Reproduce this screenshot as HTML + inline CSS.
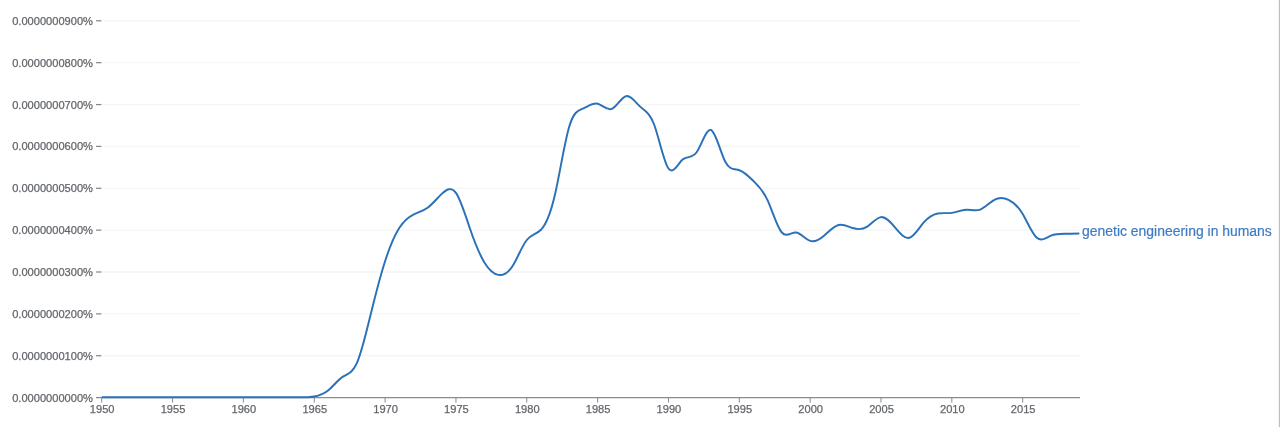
<!DOCTYPE html>
<html lang="en"><head><meta charset="utf-8"><title>Ngram chart</title>
<style>
html,body{margin:0;padding:0;background:#fff;}
body{width:1280px;height:427px;overflow:hidden;}
svg{display:block;}
.ax text{font-family:"Liberation Sans",sans-serif;font-size:11.1px;fill:#62666b;stroke:#62666b;stroke-width:0.25px;}
.lbl{font-family:"Liberation Sans",sans-serif;font-size:13.95px;fill:#3d7cc4;stroke:#3d7cc4;stroke-width:0.2px;}
</style></head><body>
<svg width="1280" height="427" viewBox="0 0 1280 427">
<rect width="1280" height="427" fill="#fff"/>
<g><line x1="96" x2="101.5" y1="397.60" y2="397.60" stroke="#858585" stroke-width="1.2"/>
<line x1="103.5" x2="1080" y1="355.74" y2="355.74" stroke="#f5f5f5" stroke-width="1.3"/>
<line x1="96" x2="101.5" y1="355.74" y2="355.74" stroke="#858585" stroke-width="1.2"/>
<line x1="103.5" x2="1080" y1="313.87" y2="313.87" stroke="#f5f5f5" stroke-width="1.3"/>
<line x1="96" x2="101.5" y1="313.87" y2="313.87" stroke="#858585" stroke-width="1.2"/>
<line x1="103.5" x2="1080" y1="272.00" y2="272.00" stroke="#f5f5f5" stroke-width="1.3"/>
<line x1="96" x2="101.5" y1="272.00" y2="272.00" stroke="#858585" stroke-width="1.2"/>
<line x1="103.5" x2="1080" y1="230.14" y2="230.14" stroke="#f5f5f5" stroke-width="1.3"/>
<line x1="96" x2="101.5" y1="230.14" y2="230.14" stroke="#858585" stroke-width="1.2"/>
<line x1="103.5" x2="1080" y1="188.28" y2="188.28" stroke="#f5f5f5" stroke-width="1.3"/>
<line x1="96" x2="101.5" y1="188.28" y2="188.28" stroke="#858585" stroke-width="1.2"/>
<line x1="103.5" x2="1080" y1="146.41" y2="146.41" stroke="#f5f5f5" stroke-width="1.3"/>
<line x1="96" x2="101.5" y1="146.41" y2="146.41" stroke="#858585" stroke-width="1.2"/>
<line x1="103.5" x2="1080" y1="104.55" y2="104.55" stroke="#f5f5f5" stroke-width="1.3"/>
<line x1="96" x2="101.5" y1="104.55" y2="104.55" stroke="#858585" stroke-width="1.2"/>
<line x1="103.5" x2="1080" y1="62.68" y2="62.68" stroke="#f5f5f5" stroke-width="1.3"/>
<line x1="96" x2="101.5" y1="62.68" y2="62.68" stroke="#858585" stroke-width="1.2"/>
<line x1="103.5" x2="1080" y1="20.81" y2="20.81" stroke="#f5f5f5" stroke-width="1.3"/>
<line x1="96" x2="101.5" y1="20.81" y2="20.81" stroke="#858585" stroke-width="1.2"/>
</g>
<line x1="101.5" x2="1080" y1="397.60" y2="397.60" stroke="#8a8a8a" stroke-width="1.2"/>
<g><line x1="101.70" x2="101.70" y1="397.60" y2="402.60" stroke="#8a8a8a" stroke-width="1"/>
<line x1="172.55" x2="172.55" y1="397.60" y2="402.60" stroke="#8a8a8a" stroke-width="1"/>
<line x1="243.39" x2="243.39" y1="397.60" y2="402.60" stroke="#8a8a8a" stroke-width="1"/>
<line x1="314.24" x2="314.24" y1="397.60" y2="402.60" stroke="#8a8a8a" stroke-width="1"/>
<line x1="385.08" x2="385.08" y1="397.60" y2="402.60" stroke="#8a8a8a" stroke-width="1"/>
<line x1="455.93" x2="455.93" y1="397.60" y2="402.60" stroke="#8a8a8a" stroke-width="1"/>
<line x1="526.77" x2="526.77" y1="397.60" y2="402.60" stroke="#8a8a8a" stroke-width="1"/>
<line x1="597.62" x2="597.62" y1="397.60" y2="402.60" stroke="#8a8a8a" stroke-width="1"/>
<line x1="668.46" x2="668.46" y1="397.60" y2="402.60" stroke="#8a8a8a" stroke-width="1"/>
<line x1="739.31" x2="739.31" y1="397.60" y2="402.60" stroke="#8a8a8a" stroke-width="1"/>
<line x1="810.15" x2="810.15" y1="397.60" y2="402.60" stroke="#8a8a8a" stroke-width="1"/>
<line x1="881.00" x2="881.00" y1="397.60" y2="402.60" stroke="#8a8a8a" stroke-width="1"/>
<line x1="951.84" x2="951.84" y1="397.60" y2="402.60" stroke="#8a8a8a" stroke-width="1"/>
<line x1="1022.69" x2="1022.69" y1="397.60" y2="402.60" stroke="#8a8a8a" stroke-width="1"/>
</g>
<g class="ax"><text x="93" y="401.60" text-anchor="end">0.0000000000%</text>
<text x="93" y="359.74" text-anchor="end">0.0000000100%</text>
<text x="93" y="317.87" text-anchor="end">0.0000000200%</text>
<text x="93" y="276.00" text-anchor="end">0.0000000300%</text>
<text x="93" y="234.14" text-anchor="end">0.0000000400%</text>
<text x="93" y="192.28" text-anchor="end">0.0000000500%</text>
<text x="93" y="150.41" text-anchor="end">0.0000000600%</text>
<text x="93" y="108.55" text-anchor="end">0.0000000700%</text>
<text x="93" y="66.68" text-anchor="end">0.0000000800%</text>
<text x="93" y="24.81" text-anchor="end">0.0000000900%</text>
<text x="102.20" y="413.0" text-anchor="middle">1950</text>
<text x="173.05" y="413.0" text-anchor="middle">1955</text>
<text x="243.89" y="413.0" text-anchor="middle">1960</text>
<text x="314.74" y="413.0" text-anchor="middle">1965</text>
<text x="385.58" y="413.0" text-anchor="middle">1970</text>
<text x="456.43" y="413.0" text-anchor="middle">1975</text>
<text x="527.27" y="413.0" text-anchor="middle">1980</text>
<text x="598.12" y="413.0" text-anchor="middle">1985</text>
<text x="668.96" y="413.0" text-anchor="middle">1990</text>
<text x="739.81" y="413.0" text-anchor="middle">1995</text>
<text x="810.65" y="413.0" text-anchor="middle">2000</text>
<text x="881.50" y="413.0" text-anchor="middle">2005</text>
<text x="952.34" y="413.0" text-anchor="middle">2010</text>
<text x="1023.19" y="413.0" text-anchor="middle">2015</text>
</g>
<path d="M101.70,397.20C106.42,397.20 111.15,397.20 115.87,397.20C120.59,397.20 125.32,397.20 130.04,397.20C134.76,397.20 139.48,397.20 144.21,397.20C148.93,397.20 153.65,397.20 158.38,397.20C163.10,397.20 167.82,397.20 172.55,397.20C177.27,397.20 181.99,397.20 186.71,397.20C191.44,397.20 196.16,397.20 200.88,397.20C205.61,397.20 210.33,397.20 215.05,397.20C219.78,397.20 224.50,397.20 229.22,397.20C233.94,397.20 238.67,397.20 243.39,397.20C248.11,397.20 252.84,397.20 257.56,397.20C262.28,397.20 267.00,397.21 271.73,397.20C276.45,397.19 281.17,397.18 285.90,397.20C290.62,397.22 295.34,397.29 300.07,397.30C304.79,397.31 309.51,397.25 314.24,396.45C318.96,395.65 323.68,394.09 328.40,390.20C333.13,386.31 337.85,380.07 342.57,376.90C347.30,373.73 352.02,373.63 356.74,363.40C361.47,353.17 366.19,332.82 370.91,313.50C375.63,294.18 380.36,275.90 385.08,261.20C389.80,246.50 394.53,235.38 399.25,228.00C403.97,220.62 408.69,216.96 413.42,214.60C418.14,212.24 422.86,211.17 427.59,207.70C432.31,204.23 437.03,198.37 441.76,193.90C446.48,189.43 451.20,186.35 455.93,192.80C460.65,199.25 465.37,215.22 470.09,229.00C474.82,242.78 479.54,254.39 484.26,262.20C488.99,270.01 493.71,274.04 498.43,274.90C503.16,275.76 507.88,273.44 512.60,266.00C517.32,258.56 522.05,245.98 526.77,240.00C531.49,234.02 536.22,234.63 540.94,229.80C545.66,224.97 550.39,214.68 555.11,194.00C559.83,173.32 564.55,142.24 569.28,126.50C574.00,110.76 578.72,110.35 583.45,108.30C588.17,106.25 592.89,102.57 597.62,103.70C602.34,104.83 607.06,110.76 611.78,108.90C616.51,107.04 621.23,97.38 625.95,96.20C630.68,95.02 635.40,102.30 640.12,106.60C644.85,110.90 649.57,112.22 654.29,125.00C659.01,137.78 663.74,162.04 668.46,168.50C673.18,174.96 677.91,163.63 682.63,159.60C687.35,155.57 692.08,158.83 696.80,152.00C701.52,145.17 706.24,128.23 710.97,130.00C715.69,131.77 720.41,152.25 725.14,161.50C729.86,170.75 734.58,168.79 739.31,170.20C744.03,171.61 748.75,176.40 753.47,181.00C758.20,185.60 762.92,190.01 767.64,200.40C772.37,210.79 777.09,227.16 781.81,232.50C786.54,237.84 791.26,232.16 795.98,232.50C800.70,232.84 805.43,239.21 810.15,240.90C814.87,242.59 819.60,239.59 824.32,235.50C829.04,231.41 833.77,226.24 838.49,225.00C843.21,223.76 847.93,226.47 852.66,228.00C857.38,229.53 862.10,229.89 866.83,226.90C871.55,223.91 876.27,217.58 881.00,217.10C885.72,216.62 890.44,221.99 895.16,227.60C899.89,233.21 904.61,239.04 909.33,237.80C914.06,236.56 918.78,228.24 923.50,222.70C928.23,217.16 932.95,214.40 937.67,213.50C942.39,212.60 947.12,213.57 951.84,212.90C956.56,212.23 961.29,209.91 966.01,209.70C970.73,209.49 975.46,211.38 980.18,209.60C984.90,207.82 989.62,202.35 994.35,199.80C999.07,197.25 1003.79,197.60 1008.52,199.80C1013.24,202.00 1017.96,206.03 1022.69,214.00C1027.41,221.97 1032.13,233.87 1036.85,237.80C1041.58,241.73 1046.30,237.68 1051.02,235.70C1055.75,233.72 1060.47,233.82 1065.19,233.80C1069.91,233.78 1074.64,233.64 1079.36,233.50" fill="none" stroke="#2a71b9" stroke-width="1.95" stroke-linejoin="round" stroke-linecap="butt"/>
<text class="lbl" x="1082" y="235.5">genetic engineering in humans</text>
<rect x="1278.8" y="0" width="1.2" height="427" fill="#bfbfbf"/>
</svg>
</body></html>
